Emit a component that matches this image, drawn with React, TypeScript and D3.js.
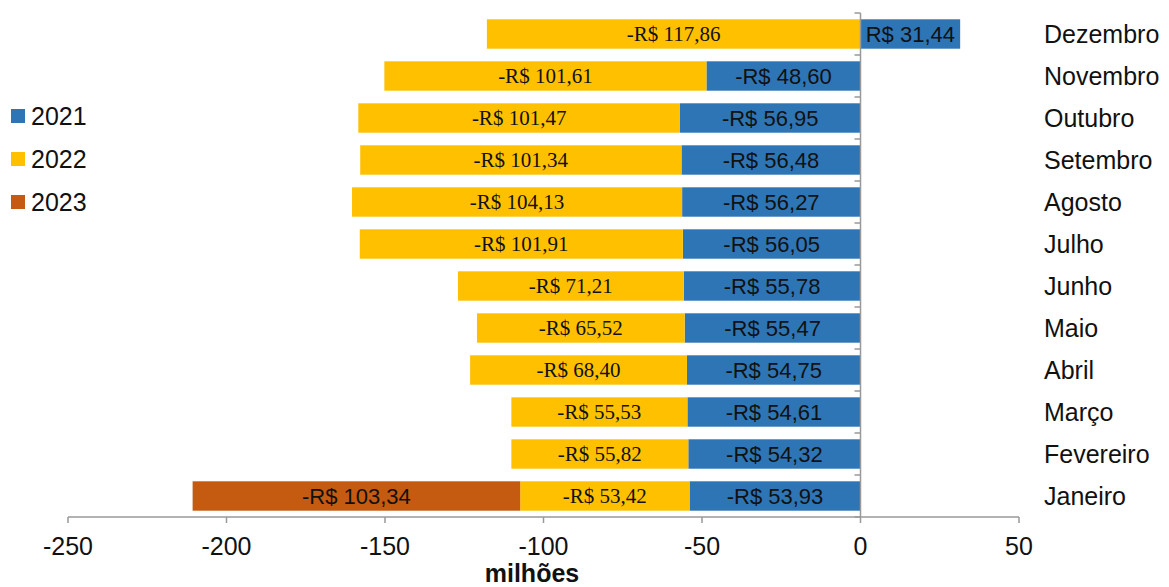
import React from "react";
import * as d3 from "d3";

const months = ["Janeiro", "Fevereiro", "Março", "Abril", "Maio", "Junho", "Julho", "Agosto", "Setembro", "Outubro", "Novembro", "Dezembro"];
const v2021 = [-53.93, -54.32, -54.61, -54.75, -55.47, -55.78, -56.05, -56.27, -56.48, -56.95, -48.60, 31.44];
const v2022 = [-53.42, -55.82, -55.53, -68.40, -65.52, -71.21, -101.91, -104.13, -101.34, -101.47, -101.61, -117.86];
const v2023 = [-103.34, 0, 0, 0, 0, 0, 0, 0, 0, 0, 0, 0];
const seriesNames = ["2021", "2022", "2023"];
const colors = ["#2E75B6", "#FFC000", "#C55A11"];
const xTicks = [-250, -200, -150, -100, -50, 0, 50];

const W = 1169, H = 587;
const sans = "'Liberation Sans', Arial, sans-serif";
const serif = "'Liberation Serif', 'Times New Roman', serif";

const fmt = (v: number) => (v < 0 ? "-R$ " : "R$ ") + Math.abs(v).toFixed(2).replace(".", ",");

export default function App() {
  const x = d3.scaleLinear().domain([-250, 50]).range([68, 1019]);
  const y = d3.scaleBand().domain([...months].reverse()).range([13, 517]).paddingInner(0.3).paddingOuter(0.15);
  const band = d3.scaleBand().domain([...months].reverse()).range([13, 517]);
  const allSeries = [v2021, v2022, v2023];

  const segs: any[] = [];
  months.forEach((m, i) => {
    let negBase = 0, posBase = 0;
    allSeries.forEach((s, si) => {
      const v = s[i];
      if (!v) return;
      let a: number, b: number;
      if (v < 0) { a = negBase + v; b = negBase; negBase += v; }
      else { a = posBase; b = posBase + v; posBase += v; }
      segs.push({ m, si, v, a, b });
    });
  });

  return (
    <svg width={W} height={H} style={{ position: "absolute", left: 0, top: 0, background: "#fff" }}>
      {segs.map((s, k) => (
        <rect key={k} x={x(s.a)} y={y(s.m)!} width={x(s.b) - x(s.a)} height={y.bandwidth()} fill={colors[s.si]} />
      ))}
      {segs.map((s, k) => (
        <text key={"t" + k} x={(x(s.a) + x(s.b)) / 2} y={y(s.m)! + y.bandwidth() / 2} dy="0.35em" textAnchor="middle"
          fontFamily={s.si === 1 ? serif : sans} fontSize={s.si === 1 ? 21 : 22} fill="#111">
          {fmt(s.v)}
        </text>
      ))}
      {/* vertical axis */}
      <line x1={x(0)} x2={x(0)} y1={13} y2={517} stroke="#999" strokeWidth={1.5} />
      {d3.range(13).map((i) => {
        const yy = 13 + i * band.step();
        return <line key={"vt" + i} x1={x(0) - 6} x2={x(0)} y1={yy} y2={yy} stroke="#999" strokeWidth={1.5} />;
      })}
      {/* horizontal axis */}
      <line x1={x(-250)} x2={x(50)} y1={517} y2={517} stroke="#999" strokeWidth={1.5} />
      {xTicks.map((t) => (
        <g key={"xt" + t}>
          <line x1={x(t)} x2={x(t)} y1={517} y2={523} stroke="#999" strokeWidth={1.5} />
          <text x={x(t)} y={555} textAnchor="middle" fontFamily={sans} fontSize={25} fill="#111">{t}</text>
        </g>
      ))}
      <text x={532} y={582} textAnchor="middle" fontFamily={sans} fontSize={25} fontWeight="bold" fill="#111">milhões</text>
      {months.map((m) => (
        <text key={"c" + m} x={1044} y={band(m)! + band.bandwidth() / 2} dy="0.35em" fontFamily={sans} fontSize={25} fill="#111">{m}</text>
      ))}
      {seriesNames.map((n, i) => (
        <g key={"l" + n}>
          <rect x={11} y={109 + i * 43} width={14} height={14} fill={colors[i]} />
          <text x={31} y={116 + i * 43} dy="0.35em" fontFamily={sans} fontSize={25} fill="#111">{n}</text>
        </g>
      ))}
    </svg>
  );
}
